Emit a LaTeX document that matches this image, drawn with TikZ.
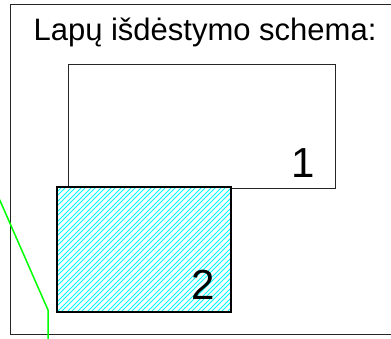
\documentclass[tikz,border=0pt]{standalone}
\usepackage{fontspec}
\setmainfont{Liberation Sans}
\definecolor{aqua}{rgb}{0,1,1}
\definecolor{lime}{rgb}{0,1,0}
\begin{document}
\begin{tikzpicture}[x=1pt,y=-1pt,
  frame/.style={draw=black!85,line width=1pt},
  sheet/.style={draw=black!85,line width=1pt},
  sheetb/.style={draw=black,line width=1.6pt},
  hatch/.style={draw=aqua,line width=1pt},
  lbl/.style={anchor=base,inner sep=0pt,font=\fontsize{42}{42}\selectfont},
  title/.style={anchor=base,inner sep=0pt,font=\fontsize{31}{31}\selectfont}]
\useasboundingbox (0,0) rectangle (391,338);
\fill[white] (0,0) rectangle (391,338);
% outer frame (right side off picture)
\draw[frame] (400,4) -- (10,4) -- (10,334) -- (400,334);
% sheet 1
\draw[sheet] (68,64) rectangle (335,188);
% sheet 2 with hatching
\fill[white] (57,187) rectangle (231,312);
\begin{scope}
\clip (57,187) rectangle (231,312);
\foreach \k in {-14,...,18} {
  \draw[hatch] (57+\k*10,312) -- ++(130,-130);
  \draw[hatch] (61+\k*10,312) -- ++(130,-130);
}
\end{scope}
\draw[sheetb] (57,187) rectangle (231,312);
% green line
\draw[lime,line width=1.5pt] (-2,196) -- (48,310) -- (48,340);
% texts
\node[title] (t) at (205,40) {Lapų išdėstymo schema:};
\node[lbl] (n1) at (303,177) {1};
\node[lbl] (n2) at (203,299) {2};
\end{tikzpicture}
\end{document}
